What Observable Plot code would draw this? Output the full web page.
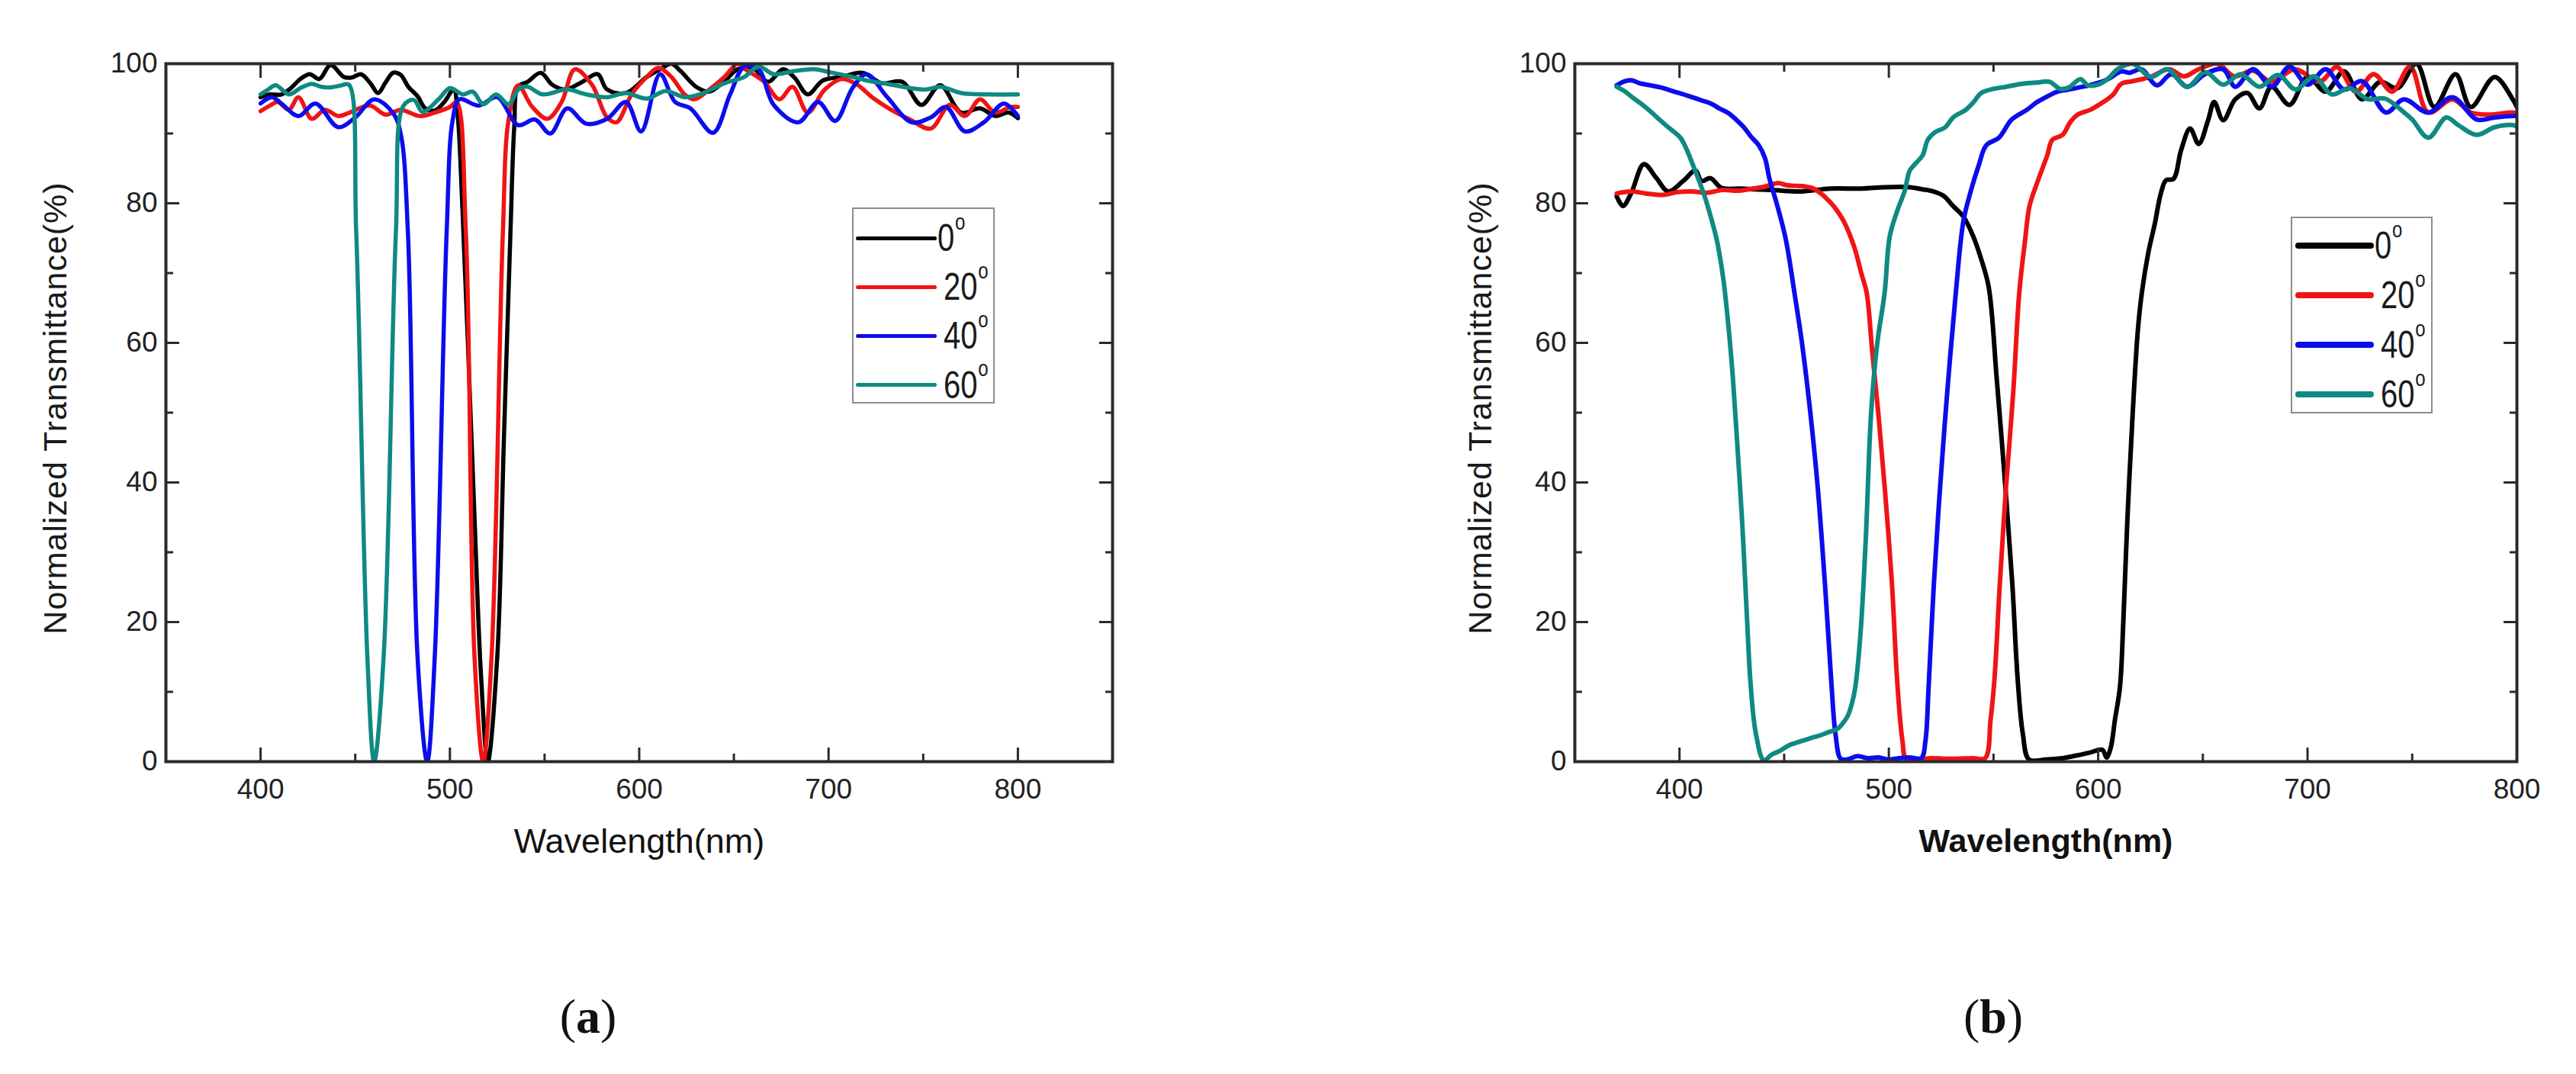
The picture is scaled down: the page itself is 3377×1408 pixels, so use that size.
<!DOCTYPE html>
<html>
<head>
<meta charset="utf-8">
<script src="https://cdn.jsdelivr.net/npm/d3@7"></script>
<script src="https://cdn.jsdelivr.net/npm/@observablehq/plot@0.6"></script>
<style>
  html, body { margin: 0; padding: 0; background: #fff; }
  #page { position: relative; width: 3377px; height: 1408px; overflow: hidden; background: #fff; font-family: "Liberation Sans", Arial, sans-serif; }
  .panel { position: absolute; top: 0; }
  .legend { position: absolute; border: 2px solid #8c8c8c; background: #fff; box-sizing: border-box; }
  .legend .sw { position: absolute; }
  .legend .lab { position: absolute; line-height: 1; color: #1a1a1a; white-space: nowrap;
                 transform: translateY(-50%) scaleX(0.8); transform-origin: left center; }
  .legend .lab sup { font-size: 0.6em; vertical-align: 0; position: relative; top: -0.95em; margin-left: 1px; }
  .tag { position: absolute; transform: translate(-50%, -50%); font-family: "Liberation Serif", "Times New Roman", serif; font-size: 64px; color: #111; }
</style>
</head>
<body>
<div id="page"></div>
<script>
// ---------- data ----------
const seriesLabels = ["0", "20", "40", "60"];
const seriesColors = ["#000000", "#f01414", "#0c0cec", "#0e8a82"];

const xTicksA = [400, 500, 600, 700, 800];
const xMinorA = [450, 550, 650, 750];
const xTicksB = [400, 500, 600, 700, 800];
const xMinorB = [450, 550, 650, 750];
const yTicks = [0, 20, 40, 60, 80, 100];
const yMinor = [10, 30, 50, 70, 90];

const xTitle = "Wavelength(nm)";
const yTitle = "Normalized Transmittance(%)";

// Panel (a): [wavelength nm, normalized transmittance %]
const a_0 = [[400,95.2],[405,95.6],[411,95.6],[416,96.5],[421,97.8],[426,98.5],[431,97.8],[437,99.8],[444,98.1],[448,98.0],[453,98.5],[458,97.2],[462,95.8],[466,97.3],[470,98.7],[474,98.4],[478,96.7],[483,95.3],[487,93.6],[492,93.3],[497,94.5],[502,96.3],[504,93],[506.5,80],[509.5,60],[513,35],[516.5,12],[520,0],[525,15],[528.5,46],[532,76],[534,91],[536,96.7],[541,97.4],[548,98.7],[554,97],[561,96.3],[570,97.4],[578,98.5],[583,96.3],[593,95.8],[604,98.1],[611,99.2],[617,100],[622,98.9],[630,96.7],[637,96],[645,97.5],[652,99.2],[660,99.4],[668,97.4],[676,99.2],[682,98],[689,95.6],[697,97.6],[707,98.1],[718,98.7],[728,97.2],[739,97.4],[749,94.1],[759,96.9],[770,93],[780,93.6],[788,92.5],[795,93],[800,92.2]];
const a_20 = [[400,93.2],[405,94],[409,94.5],[415,93.4],[420,95.2],[427,92.1],[434,93.4],[441,92.5],[447,93],[452,93.6],[458,94],[466,92.7],[474,93.4],[484,92.5],[492,93],[500,93.8],[503.5,94.5],[508.4,76],[513,15],[517.6,0],[522,15],[528,76],[531,92],[536,96.9],[543.5,93.8],[551.5,92.1],[559,94.5],[566,99.2],[575,97],[583,92.3],[588,91.6],[596,95.6],[604,98.1],[610,99.4],[617,98.1],[624,95.6],[629,94.9],[637,96.3],[645,98.1],[652,100],[656,99.2],[666,97.4],[674,94.9],[681,96.7],[689,93],[698,96.3],[707,97.8],[715,97],[723,95.2],[733,93.4],[743,92],[754,90.7],[764,94.1],[772,92.5],[780,94.9],[788,93],[796,93.8],[800,93.8]];
const a_40 = [[400,94.3],[406,95.2],[411,94.3],[420,92.5],[429,94.3],[441,90.9],[450,92.3],[460,94.9],[470,92.9],[474,90],[477.8,76],[482.9,15],[488,0],[492,15],[498.3,76],[501.5,92],[505,94.9],[515,94],[525,95.2],[536,91.2],[545,92],[553,90],[562,93.6],[572,91.4],[583,92.1],[593,94.5],[601,90.3],[611,98.5],[619,94.5],[627,93.6],[639,90.1],[648,95.6],[655.5,99.6],[663,99.2],[671,94.1],[684,91.6],[694.5,94.5],[703.5,91.8],[712.6,96.5],[720,98.5],[731,95.2],[744,91.6],[754,92.3],[762,93.8],[772,90.3],[782,91.6],[792.6,94.3],[800,92.5]];
const a_60 = [[400,95.6],[404,96.3],[408,96.9],[415,95.6],[421,96.5],[427,97.1],[432,96.7],[437,96.6],[442.7,96.9],[446.6,97],[450.5,76],[456.4,15],[460,0],[465,15],[471.5,76],[475.5,94],[481,94.8],[485.5,93.1],[494,94.9],[500,96.5],[507,95.6],[512,96],[517.7,94.2],[524.4,95.6],[531,94.2],[536.5,96.4],[541,96.7],[549,95.6],[562,96.3],[572,95.6],[583,95.2],[593,95.8],[604,95],[614,96.1],[624,95.2],[634,95.8],[645,97.2],[655.5,98.1],[663,99.6],[671,98.5],[681,98.9],[692,99.2],[702,98.7],[712.6,98.1],[720,97.6],[731,97.1],[739,96.7],[751.5,96.3],[759,96.7],[770,95.8],[785,95.6],[800,95.6]];

// Panel (b)
const b_0 = [[370,81],[373,79.6],[377,81.5],[383,85.6],[389,83.6],[394.6,81.7],[401.8,83.2],[407.6,84.7],[410.5,83.2],[414.8,83.6],[420,82.2],[429,82.1],[444,81.9],[458,81.7],[472,82.1],[487,82.1],[498,82.3],[510,82.3],[516,82],[520,81.8],[526,81.1],[530.7,79.6],[535.6,78.1],[540.4,75.2],[544.1,72],[547.7,68],[551.5,55],[555.5,40],[559,25.4],[561.5,12],[564,4],[567,0.3],[575,0.3],[583,0.5],[590,0.9],[596,1.3],[602,1.7],[604,0.6],[606,2],[608,6],[610.4,10.7],[612,20],[614,35],[616.5,50],[619,62],[621,67.5],[624,73],[627,77],[630,81.5],[632.4,83.3],[636,83.5],[639.6,87.6],[643.9,90.7],[648,88.5],[652.5,91.9],[655.4,94.5],[659.7,91.9],[665.5,94.9],[671.3,95.8],[677,93.6],[682.8,96.7],[691.4,94.1],[700,98.1],[708.7,96],[717.4,98.9],[726,94.9],[734.7,97.4],[743,96.5],[752,100],[760.6,93.8],[770.7,98.5],[778,93.8],[789.4,98.1],[798,94.9],[800,93.8]];
const b_20 = [[370,81.4],[377,81.7],[384,81.4],[392,81.2],[399,81.6],[406,81.7],[413,81.5],[420.6,81.9],[428,81.8],[435,82.1],[441,82.4],[447,82.9],[451,82.6],[455,82.5],[460,82.4],[464,82.1],[467.6,81.4],[470.5,80.6],[473.6,79.6],[478.5,77.4],[483.4,73.8],[487,69.8],[489.4,67.2],[492,59],[495,49.8],[498,39.4],[501.5,25.4],[504,11.5],[506.5,3],[508.5,0.3],[520,0.5],[530,0.4],[540,0.5],[546,0.5],[548.6,6],[550.5,12],[553,25.4],[556,39.4],[559.5,53.3],[562.3,67.2],[565,74.5],[567.2,79.6],[570.8,82.9],[575.7,86.9],[578.1,89.1],[583,89.8],[586.6,91.6],[590.2,92.7],[596.3,93.4],[602.4,94.5],[607.2,95.6],[611,97.1],[616.5,97.5],[625,98.1],[633.8,99.2],[641,98.2],[648,99.2],[657,100],[665,98.2],[674,99],[683,97.4],[694,99.2],[705.8,97.4],[714,99.5],[723.1,96],[731.6,98.5],[740.4,96],[749,99.6],[757.7,93],[769.2,94.9],[778,93],[786.5,92.7],[798,93],[800,92.8]];
const b_40 = [[370,96.9],[374,97.5],[377.4,97.6],[381,97.2],[386,96.9],[391,96.6],[397.5,96],[402,95.6],[406,95.2],[411,94.7],[415,94.3],[419,93.6],[423.5,92.9],[427,92],[430.7,90.9],[434,89.6],[437.9,88.3],[440.8,86.5],[443,83.5],[446.5,79.9],[450.8,74.8],[455,67],[458.5,60],[462.5,50],[466,39.4],[469.5,25.4],[472.5,11.5],[474.5,4],[477,0.4],[480,0.3],[485,0.8],[490,0.5],[495,0.6],[500,0.3],[505,0.5],[510,0.6],[515.5,0.5],[517.5,3],[519,10.7],[521.5,25.4],[524.5,39.4],[528,53.3],[532,67.2],[535.6,77.4],[539.2,81.8],[542.9,85.4],[546.5,88.3],[552.6,89.4],[558.7,92],[566,93.4],[570.8,94.5],[575.7,95.3],[580.5,96],[586,96.3],[592.7,96.7],[598,97.1],[604.8,97.8],[611,98.9],[615,98.7],[620.8,99.2],[628,96.9],[635,98.5],[642.5,96.7],[651,98.5],[659.7,99.2],[665.5,96.7],[674,99.2],[683,96.7],[691.4,99.6],[700,97],[708.7,99.2],[717.4,96.3],[726,97.5],[737.5,93],[746,94.9],[757.7,93],[769.2,95.2],[780.8,92],[789.4,92.3],[798,92.5],[800,92.5]];
const b_60 = [[370,96.7],[374,96],[377.4,95.2],[382,94.2],[386,93.2],[390,92.1],[394.6,90.9],[400.4,89.4],[403,88],[406,85.8],[409,83.5],[412,81],[415,78],[418,74.5],[421,69],[423.5,62],[425.5,55],[427.5,46],[430,34],[432,22],[434,11],[436.5,4],[440.3,0.2],[444,1],[448.3,1.6],[452,2.3],[457.9,2.9],[462,3.3],[467.5,3.8],[471,4.2],[475.5,4.7],[478,5.5],[480.3,6.5],[482.5,8.5],[484,10.7],[486.5,18.5],[489,32],[491.5,49.8],[494.5,60],[498,67.2],[500.4,75.2],[504,78.9],[507.6,81.8],[510,84.7],[513.1,85.8],[516.2,86.9],[518.6,89.1],[522.2,90.2],[527,90.9],[530.7,92.3],[536.8,93.4],[540.5,94.5],[544.1,95.8],[550.2,96.4],[556.2,96.7],[563.5,97.1],[570.8,97.3],[576.9,97.4],[581.7,96.4],[586,96.6],[591.5,97.8],[595.1,96.9],[600,97],[604.5,97.8],[609.7,99.3],[616.5,100],[625.2,98.1],[633,99.2],[642.5,96.7],[651,98.8],[659.7,97],[668,98.5],[677,96.7],[686,98.4],[694.3,96.3],[703,98.2],[711.6,95.6],[720,96.5],[728.9,94.9],[737,95],[746.2,93],[750,92],[757.7,89.4],[766.3,92.3],[772,91.2],[780.8,89.8],[789.4,90.9],[798,91.2],[800,91]];

const panelA = [a_0, a_20, a_40, a_60];
const panelB = [b_0, b_20, b_40, b_60];

// ---------- drawing ----------
const FONT = "'Liberation Sans', Arial, Helvetica, sans-serif";
const INK = "#222";

function makePanel({series, xDomain, xTicks, xMinor, width, marginLeft, marginRight, yTitleDx, boldX, xTitleSize, lineWidth}) {
  const lines = series.map((s, i) => Plot.line(s, {
    x: d => d[0], y: d => d[1], stroke: seriesColors[i], strokeWidth: lineWidth,
    curve: "catmull-rom", clip: true, strokeLinejoin: "round", strokeLinecap: "round"
  }));
  const tickStyle = {stroke: "#2a2a2a", strokeWidth: 3, tickFormat: () => "", label: null};
  return Plot.plot({
    width, height: 1160,
    marginLeft, marginRight, marginTop: 83, marginBottom: 162,
    x: {domain: xDomain},
    y: {domain: [0, 100]},
    style: {fontFamily: FONT, color: INK, background: "transparent", overflow: "visible"},
    marks: [
      ...lines,
      Plot.frame({stroke: "#2a2a2a", strokeWidth: 4}),
      // inward ticks on all four sides
      Plot.axisX(xTicks, {anchor: "bottom", tickSize: -18, ...tickStyle}),
      Plot.axisX(xMinor, {anchor: "bottom", tickSize: -10, ...tickStyle}),
      Plot.axisX(xTicks, {anchor: "top", tickSize: -18, ...tickStyle}),
      Plot.axisX(xMinor, {anchor: "top", tickSize: -10, ...tickStyle}),
      Plot.axisY(yTicks, {anchor: "left", tickSize: -18, ...tickStyle}),
      Plot.axisY(yMinor, {anchor: "left", tickSize: -10, ...tickStyle}),
      Plot.axisY(yTicks, {anchor: "right", tickSize: -18, ...tickStyle}),
      Plot.axisY(yMinor, {anchor: "right", tickSize: -10, ...tickStyle}),
      // tick labels
      Plot.axisX(xTicks, {anchor: "bottom", tickSize: 0, tickPadding: 22, fontSize: 37, label: null, fill: INK}),
      Plot.axisY(yTicks, {anchor: "left", tickSize: 0, tickPadding: 11, fontSize: 37, label: null, fill: INK}),
      // axis titles
      Plot.text([xTitle], {text: d => d, frameAnchor: "bottom", dy: 105, lineAnchor: "middle",
        fontSize: xTitleSize, fontWeight: boldX ? "bold" : "normal", fill: "#111"}),
      Plot.text([yTitle], {text: d => d, frameAnchor: "left", rotate: -90, dx: yTitleDx, dy: -6,
        lineAnchor: "middle", textAnchor: "middle", fontSize: 43, fill: "#1a1a1a"})
    ]
  });
}

const page = document.getElementById("page");

const svgA = makePanel({series: panelA, xDomain: [350, 850], xTicks: xTicksA, xMinor: xMinorA,
  width: 1560, marginLeft: 217, marginRight: 102, yTitleDx: -144, boldX: false, xTitleSize: 45, lineWidth: 5.5});
const wrapA = document.createElement("div");
wrapA.className = "panel"; wrapA.style.left = "0px";
wrapA.appendChild(svgA); page.appendChild(wrapA);

const svgB = makePanel({series: panelB, xDomain: [350, 800], xTicks: xTicksB, xMinor: xMinorB,
  width: 1677, marginLeft: 364, marginRight: 78, yTitleDx: -123, boldX: true, xTitleSize: 43, lineWidth: 6});
const wrapB = document.createElement("div");
wrapB.className = "panel"; wrapB.style.left = "1700px";
wrapB.appendChild(svgB); page.appendChild(wrapB);

// letter spacing on y titles
d3.selectAll("svg text").filter(function() { return this.textContent === yTitle; })
  .style("letter-spacing", "1px");

// legends
function legend({left, top, w, h, firstY, stepY, lineX0, lineX1, lineH, labX, fontSize}) {
  const box = document.createElement("div");
  box.className = "legend";
  Object.assign(box.style, {left: left + "px", top: top + "px", width: w + "px", height: h + "px"});
  seriesLabels.forEach((lab, i) => {
    const cy = firstY + i * stepY - top;
    const sw = document.createElement("div");
    sw.className = "sw";
    Object.assign(sw.style, {left: (lineX0 - left) + "px", width: (lineX1 - lineX0) + "px",
      top: (cy - lineH / 2) + "px", height: lineH + "px", background: seriesColors[i], borderRadius: (lineH/2) + "px"});
    box.appendChild(sw);
    const t = document.createElement("div");
    t.className = "lab";
    Object.assign(t.style, {left: (labX - left + (i === 0 ? 0 : 8)) + "px", top: cy + "px", fontSize: fontSize + "px"});
    t.innerHTML = lab + "<sup>o</sup>";
    box.appendChild(t);
  });
  page.appendChild(box);
}
legend({left: 1117, top: 272, w: 187, h: 257, firstY: 310, stepY: 64.2, lineX0: 1120, lineX1: 1226, lineH: 5, labX: 1227, fontSize: 50});
legend({left: 3003, top: 284, w: 186, h: 258, firstY: 320, stepY: 65, lineX0: 3007, lineX1: 3110, lineH: 8, labX: 3111, fontSize: 50});

// panel tags
[["a", 771], ["b", 2613]].forEach(([k, x]) => {
  const t = document.createElement("div");
  t.className = "tag";
  Object.assign(t.style, {left: x + "px", top: "1333px"});
  t.innerHTML = "(<b>" + k + "</b>)";
  page.appendChild(t);
});
</script>
</body>
</html>
